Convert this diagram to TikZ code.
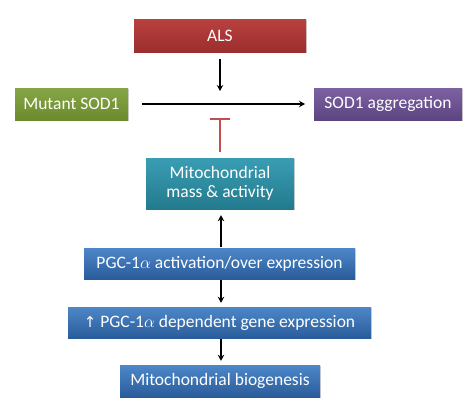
\documentclass[tikz,border=0pt]{standalone}
\usepackage{fontspec}
\setmainfont{Carlito}
\newfontfamily\symfont{DejaVu Sans}
\usetikzlibrary{shadows,arrows.meta,calc}
\definecolor{redT}{HTML}{B9413F}\definecolor{redB}{HTML}{9A2E2E}
\definecolor{grnT}{HTML}{86A646}\definecolor{grnB}{HTML}{6A8A2E}
\definecolor{purT}{HTML}{7D62A2}\definecolor{purB}{HTML}{5C4480}
\definecolor{tealT}{HTML}{3A9DB3}\definecolor{tealB}{HTML}{237A8E}
\definecolor{bluT}{HTML}{4D87C9}\definecolor{bluB}{HTML}{2A5C9A}
\definecolor{inhib}{HTML}{C0504D}
\begin{document}
\begin{tikzpicture}[x=1pt,y=-1pt,
  box/.style={rectangle,inner sep=0pt,text=white,align=center,
    font=\fontsize{17.5}{20}\selectfont,
    drop shadow={shadow xshift=1.2pt,shadow yshift=-1.2pt,opacity=0.35}},
  arr/.style={-{Stealth[length=6pt,width=6.5pt]},line width=1.3pt,black},
  inh/.style={-{Bar[width=20pt,line width=1.8pt]},line width=1.8pt,inhib}]
\useasboundingbox[fill=white] (0,0) rectangle (469,415);
\node[box,minimum width=172pt,minimum height=33pt,top color=redT,bottom color=redB] (als) at (220,35.5) {ALS};
\node[box,minimum width=113pt,minimum height=32pt,top color=grnT,bottom color=grnB] (mut) at (71.5,104) {Mutant SOD1};
\node[box,minimum width=148pt,minimum height=32pt,top color=purT,bottom color=purB] (agg) at (388,104) {SOD1 aggregation};
\node[box,minimum width=148pt,minimum height=51pt,top color=tealT,bottom color=tealB] (mito) at (220,183.5) {Mitochondrial\\[-1pt]mass \& activity};
\node[box,minimum width=271pt,minimum height=31pt,top color=bluT,bottom color=bluB] (pgc) at (219.5,263.5) {PGC-1$\alpha$ activation/over expression};
\node[box,minimum width=303pt,minimum height=31pt,top color=bluT,bottom color=bluB] (gene) at (219.5,322.5) {{\symfont\fontsize{15}{18}\selectfont↑} PGC-1$\alpha$ dependent gene expression};
\node[box,minimum width=200pt,minimum height=32pt,top color=bluT,bottom color=bluB] (bio) at (220,381) {Mitochondrial biogenesis};
\coordinate (hs) at (142,104);
\coordinate (he) at (305,104);
\coordinate (ta) at (220,59);
\coordinate (tb) at (220,91);
\coordinate (tbar) at (220,118);
\coordinate (ax) at (221,0);
\draw[arr] (hs) -- (he);
\draw[arr] (ta) -- (tb);
\draw[inh] ($(mito.north -| tbar)+(0,-6)$) -- (tbar);
\draw[arr] ($(pgc.north -| ax)+(0,-1)$) -- ($(mito.south -| ax)+(0,6)$);
\draw[arr] ($(pgc.south -| ax)+(0,1)$) -- ($(gene.north -| ax)+(0,-4)$);
\draw[arr] ($(gene.south -| ax)+(0,1)$) -- ($(bio.north -| ax)+(0,-4)$);
\end{tikzpicture}
\end{document}
